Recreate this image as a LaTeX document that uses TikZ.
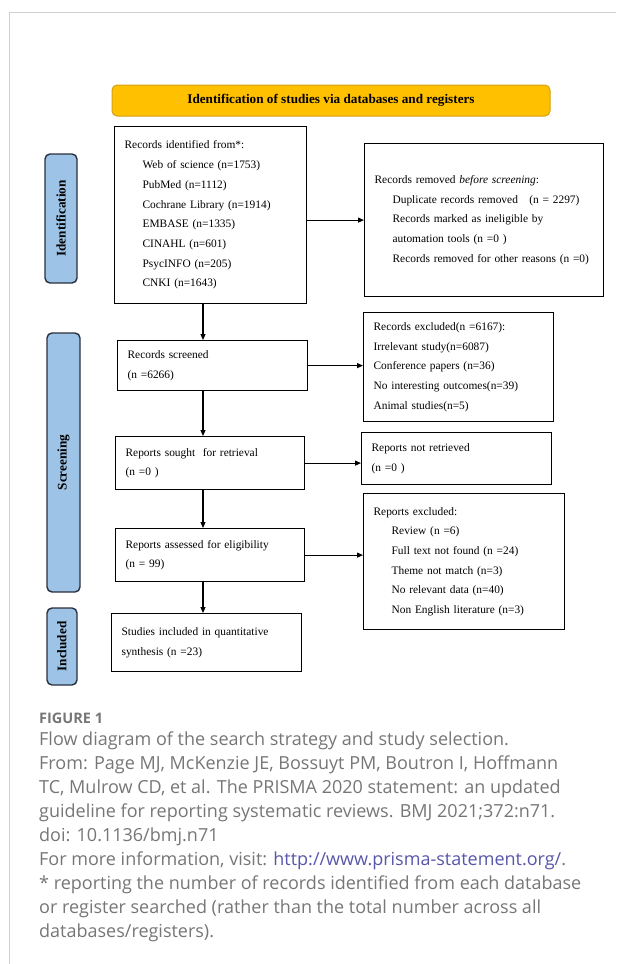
\documentclass[tikz,border=0pt]{standalone}
\usepackage{fontspec}
\setmainfont{Liberation Serif}
\newfontfamily\capfont{Open Sans}
\definecolor{prismagold}{RGB}{255,192,0}
\definecolor{golddark}{RGB}{214,160,20}
\definecolor{phaseblue}{RGB}{157,195,230}
\definecolor{phaseline}{RGB}{40,48,62}
\definecolor{capgray}{RGB}{118,118,118}
\definecolor{linkblue}{RGB}{88,86,170}
\definecolor{framegray}{RGB}{208,208,208}
\usetikzlibrary{arrows.meta, positioning, calc}

\begin{document}
\begin{tikzpicture}[
        x=1pt, y=-1pt,
        box/.style={rectangle, draw=black, line width=1.2pt, anchor=north west, inner xsep=10pt, inner ysep=0pt, align=left, font=\fontsize{11.4}{19.7}\selectfont},
        headbox/.style={rectangle, draw=golddark, line width=1pt, fill=prismagold, rounded corners=5pt, minimum width=438pt, minimum height=31pt, inner sep=0pt, font=\fontsize{13.2}{14}\selectfont\bfseries},
        phase/.style={rectangle, draw=phaseline, line width=1.4pt, fill=phaseblue, rounded corners=5pt, rotate=90, inner sep=0pt, font=\fontsize{13.2}{14}\selectfont\bfseries},
        arrow/.style={-{Triangle[length=6pt,width=5pt]}, line width=1.1pt}
    ]
        \useasboundingbox (0,0) rectangle (616,964);
        \draw[framegray, line width=1pt] (9,964) -- (9,12) -- (616,12);

        \node[headbox] (head) at (331,100.5) {Identification of studies via databases and registers};

        % phase labels
        \node[phase, minimum width=129pt, minimum height=32pt] (idlab) at (61,218.5) {Identification};
        \node[phase, minimum width=259pt, minimum height=33pt] (scrlab) at (63.5,462.5) {Screening};
        \node[phase, minimum width=77pt, minimum height=30pt] (inclab) at (62,646.5) {Included};

        % left column
        \node[box, text width=172pt, minimum height=177pt] (ident) at (114,126) {Records identified from*:\\
            \hspace*{18pt}Web of science (n=1753)\\
            \hspace*{18pt}PubMed (n=1112)\\
            \hspace*{18pt}Cochrane Library (n=1914)\\
            \hspace*{18pt}EMBASE (n=1335)\\
            \hspace*{18pt}CINAHL (n=601)\\
            \hspace*{18pt}PsycINFO (n=205)\\
            \hspace*{18pt}CNKI (n=1643)};
        \node[box, text width=170pt, minimum height=50pt] (screened) at (117,340) {Records screened\\(n =6266)};
        \node[box, text width=169pt, minimum height=53pt] (sought) at (115,436) {Reports sought\ \ for retrieval\\(n =0 )};
        \node[box, text width=169pt, minimum height=53pt] (assessed) at (115,528) {Reports assessed for eligibility\\(n = 99)};
        \node[box, text width=170pt, minimum height=58pt] (included) at (111,613) {Studies included in quantitative\\synthesis (n =23)};

        % right column
        \node[box, text width=219pt, minimum height=153pt] (removed) at (364,143) {Records removed \textit{before screening}:\\
            \hspace*{18pt}Duplicate records removed\quad(n = 2297)\\
            \hspace*{18pt}Records marked as ineligible by\\
            \hspace*{18pt}automation tools (n =0 )\\
            \hspace*{18pt}Records removed for other reasons (n =0)};
        \node[box, text width=170pt, minimum height=109pt] (excluded) at (363,312) {Records excluded(n =6167):\\
            Irrelevant study(n=6087)\\
            Conference papers (n=36)\\
            No interesting outcomes(n=39)\\
            Animal studies(n=5)};
        \node[box, text width=170pt, minimum height=52pt] (notretr) at (361,432) {Reports not retrieved\\(n =0 )};
        \node[box, text width=181pt, minimum height=136pt] (repexcl) at (363,493) {Reports excluded:\\
            \hspace*{18pt}Review (n =6)\\
            \hspace*{18pt}Full text not found (n =24)\\
            \hspace*{18pt}Theme not match (n=3)\\
            \hspace*{18pt}No relevant data (n=40)\\
            \hspace*{18pt}Non English literature (n=3)};

        \coordinate (col) at (203,0);
        \draw[arrow] (ident.south -| col) -- (screened.north -| col);
        \draw[arrow] (screened.south -| col) -- (sought.north -| col);
        \draw[arrow] (sought.south -| col) -- (assessed.north -| col);
        \draw[arrow] (assessed.south -| col) -- (included.north -| col);

        \draw[arrow] (ident.east |- removed.west) -- (removed.west);
        \draw[arrow] (screened.east) -- (screened.east -| excluded.west);
        \draw[arrow] (sought.east) -- (sought.east -| notretr.west);
        \draw[arrow] (assessed.east) -- (assessed.east -| repexcl.west);

        % caption
        \node[anchor=base west, inner sep=0pt, text=capgray, font=\capfont\bfseries\fontsize{14.5}{16}\selectfont] (figlab) at (39,723) {FIGURE 1};
        \node[anchor=north west, inner sep=0pt, text=capgray, align=left, font=\capfont\fontsize{18}{24}\selectfont] (caption) at (39,732) {Flow diagram of the search strategy and study selection.\\
            From: Page MJ, McKenzie JE, Bossuyt PM, Boutron I, Hoffmann\\
            TC, Mulrow CD, et al. The PRISMA 2020 statement: an updated\\
            guideline for reporting systematic reviews. BMJ 2021;372:n71.\\
            doi: 10.1136/bmj.n71\\
            For more information, visit: \textcolor{linkblue}{http://www.prisma-statement.org/}.\\
            * reporting the number of records identified from each database\\
            or register searched (rather than the total number across all\\
            databases/registers).};
    \end{tikzpicture}
\end{document}
